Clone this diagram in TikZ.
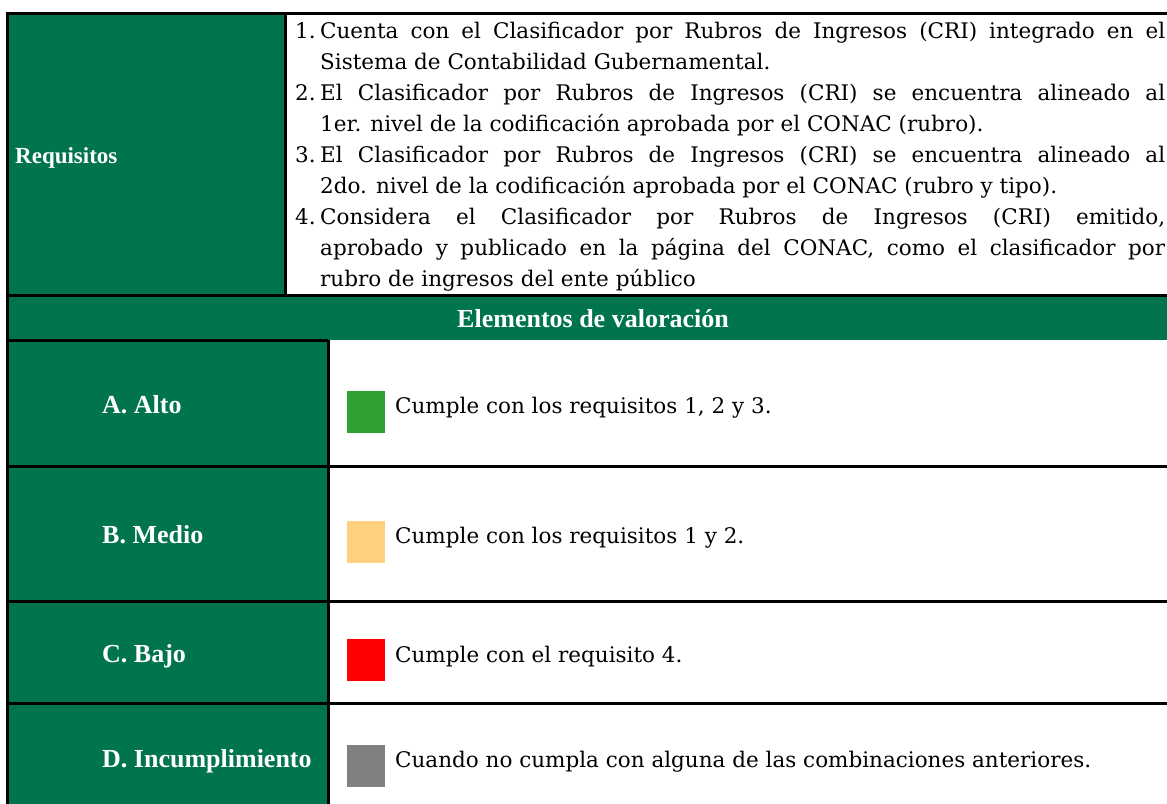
\documentclass[tikz,border=0pt]{standalone}
\usepackage{fontspec}
\setmainfont{DejaVu Serif}
\newfontfamily\etiquetafont{Liberation Serif}
\definecolor{verde}{RGB}{0,116,79}
\definecolor{verdealto}{RGB}{51,160,51}
\definecolor{naranja}{RGB}{255,208,128}
\definecolor{rojo}{RGB}{255,0,0}
\definecolor{gris}{RGB}{128,128,128}
\newcommand{\numitem}[1]{\hangindent=25pt\hangafter=1\noindent\makebox[25pt][l]{#1}}

\begin{document}
\begin{tikzpicture}[x=1pt, y=-1pt, font=\fontsize{21.5}{31.1}\selectfont]
        \tikzstyle{etiqueta} = [text=white, inner sep=0pt, anchor=base west,
                                font=\etiquetafont\bfseries\fontsize{26}{30}\selectfont]
        \tikzstyle{texto} = [inner sep=0pt, anchor=base west]
        \tikzstyle{marca} = [inner sep=0pt, anchor=north west, minimum width=38pt, minimum height=42pt]
        \tikzstyle{borde} = [line width=3pt]

        \useasboundingbox (0,0) rectangle (1167,803);

        % Fondos verdes
        \fill[verde] (7,13) rectangle (285,295);
        \fill[verde] (7,295) rectangle (1180,340);
        \fill[verde] (7,340) rectangle (328,810);

        % Requisitos
        \node[etiqueta, font=\etiquetafont\bfseries\fontsize{23}{27}\selectfont] (requisitos) at (15,163) {Requisitos};
        \node[texto, text width=870pt, align=justify] (lista) at (295,38) {%
            \numitem{1.}Cuenta con el Clasificador por Rubros de Ingresos (CRI) integrado en el\linebreak
            Sistema de Contabilidad Gubernamental.\par
            \numitem{2.}El Clasificador por Rubros de Ingresos (CRI) se encuentra alineado al\linebreak
            1er. nivel de la codificación aprobada por el CONAC (rubro).\par
            \numitem{3.}El Clasificador por Rubros de Ingresos (CRI) se encuentra alineado al\linebreak
            2do. nivel de la codificación aprobada por el CONAC (rubro y tipo).\par
            \numitem{4.}Considera el Clasificador por Rubros de Ingresos (CRI) emitido,\linebreak
            aprobado y publicado en la página del CONAC, como el clasificador por\linebreak
            rubro de ingresos del ente público\par};

        % Elementos de valoración
        \node[etiqueta, anchor=base] (elementos) at (593,327) {Elementos de valoración};

        % Niveles
        \node[etiqueta] (alto) at (102,413) {A. Alto};
        \node[etiqueta] (medio) at (102,543) {B. Medio};
        \node[etiqueta] (bajo) at (102,662) {C. Bajo};
        \node[etiqueta] (incumple) at (102,767) {D. Incumplimiento};

        \node[marca, fill=verdealto] (marca_alto) at (347,391) {};
        \node[marca, fill=naranja] (marca_medio) at (347,521) {};
        \node[marca, fill=rojo] (marca_bajo) at (347,639) {};
        \node[marca, fill=gris] (marca_incumple) at (347,745) {};

        \node[texto] (desc_alto) at (395,413) {Cumple con los requisitos 1, 2 y 3.};
        \node[texto] (desc_medio) at (395,543) {Cumple con los requisitos 1 y 2.};
        \node[texto] (desc_bajo) at (395,662) {Cumple con el requisito 4.};
        \node[texto] (desc_incumple) at (395,767) {Cuando no cumpla con alguna de las combinaciones anteriores.};

        % Bordes
        \draw[borde] (7,810) -- (7,13) -- (1180,13);
        \draw[borde] (285,13) -- (285,295);
        \draw[borde] (7,295) -- (1180,295);
        \draw[borde] (7,340) -- (328,340);
        \draw[borde] (328,340) -- (328,810);
        \draw[borde] (7,466) -- (1180,466);
        \draw[borde] (7,601) -- (1180,601);
        \draw[borde] (7,703) -- (1180,703);
    \end{tikzpicture}
\end{document}
